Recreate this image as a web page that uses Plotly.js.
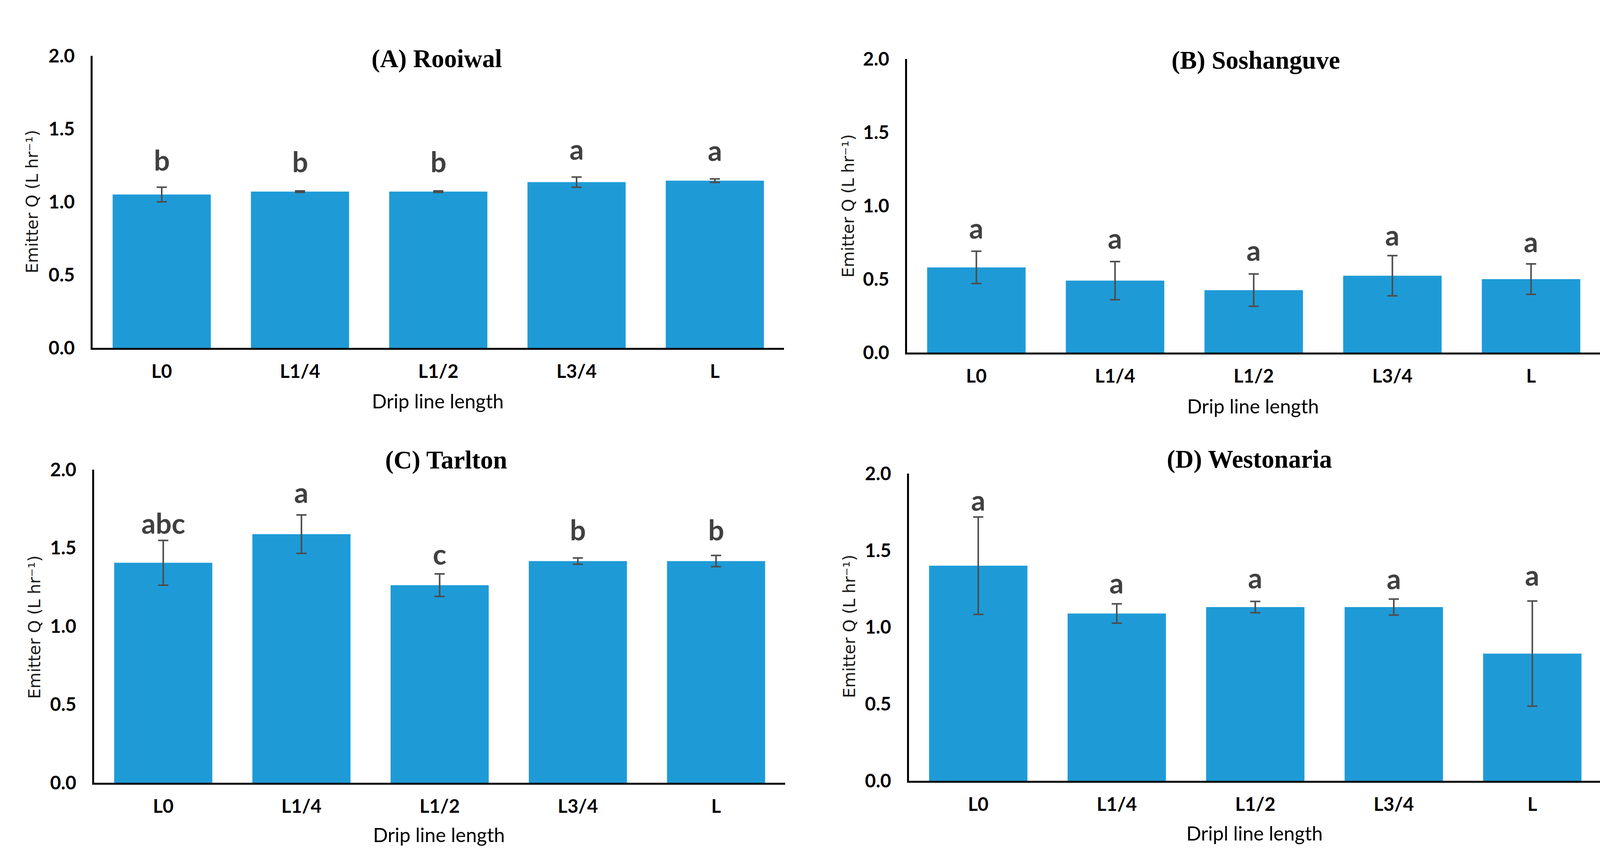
<!DOCTYPE html>
<html>
<head>
<meta charset="utf-8">
<script src="https://cdn.plot.ly/plotly-3.0.1.min.js"></script>
<style>
  html, body { margin: 0; padding: 0; background: #ffffff; }
  #chart { width: 4128px; height: 2208px; }
</style>
</head>
<body>
<div id="chart"></div>
<script>
// ---------- data ----------
const categories = ['L0', 'L1/4', 'L1/2', 'L3/4', 'L'];

const panelTitles = ['(A) Rooiwal', '(B) Soshanguve', '(C) Tarlton', '(D) Westonaria'];
const xTitles = ['Drip line length', 'Drip line length', 'Drip line length', 'Dripl line length'];
const yTitle = 'Emitter Q (L hr\u207B\u00B9)';
const yTickVals = [0, 0.5, 1.0, 1.5, 2.0];
const yTickText = ['0.0', '0.5', '1.0', '1.5', '2.0'];

const rooiwalQ   = [1.050, 1.070, 1.070, 1.135, 1.145];
const rooiwalErr = [0.050, 0.005, 0.005, 0.035, 0.012];
const rooiwalLetters = ['b', 'b', 'b', 'a', 'a'];
const rooiwalLetterY = [1.201, 1.191, 1.191, 1.276, 1.267];

const soshanguveQ   = [0.580, 0.490, 0.425, 0.523, 0.500];
const soshanguveErr = [0.110, 0.130, 0.110, 0.137, 0.104];
const soshanguveLetters = ['a', 'a', 'a', 'a', 'a'];
const soshanguveLetterY = [0.763, 0.694, 0.613, 0.716, 0.669];

const tarltonQ   = [1.405, 1.588, 1.262, 1.416, 1.416];
const tarltonErr = [0.143, 0.123, 0.072, 0.020, 0.036];
const tarltonLetters = ['abc', 'a', 'c', 'b', 'b'];
const tarltonLetterY = [1.579, 1.775, 1.381, 1.535, 1.535];

const westonariaQ   = [1.400, 1.089, 1.131, 1.131, 0.828];
const westonariaErr = [0.317, 0.063, 0.037, 0.052, 0.342];
const westonariaLetters = ['a', 'a', 'a', 'a', 'a'];
const westonariaLetterY = [1.746, 1.207, 1.240, 1.236, 1.258];

// ---------- layout / style ----------
const W = 4128, H = 2208;
const px = v => v / W;            // pixel x -> paper
const py = v => 1 - v / H;        // pixel y -> paper

const BAR = '#1E9BD7';
const ERR = '#4d4d4d';
const LETTER = '#404040';
const tickFont = { family: 'Lato, "Open Sans", sans-serif', size: 48, color: '#000000', weight: 'bold' };

const panels = [
  { q: rooiwalQ, err: rooiwalErr, letters: rooiwalLetters, ly: rooiwalLetterY,
    xd: [237, 2007], yd: [143, 891], title: [1118, 150], xt: [1120, 1027], yt: [82, 517] },
  { q: soshanguveQ, err: soshanguveErr, letters: soshanguveLetters, ly: soshanguveLetterY,
    xd: [2322, 4097], yd: [151, 903], title: [3215, 154], xt: [3207, 1040], yt: [2172, 528] },
  { q: tarltonQ, err: tarltonErr, letters: tarltonLetters, ly: tarltonLetterY,
    xd: [241, 2010], yd: [1203, 2005], title: [1142, 1178], xt: [1123, 2138], yt: [88, 1607] },
  { q: westonariaQ, err: westonariaErr, letters: westonariaLetters, ly: westonariaLetterY,
    xd: [2327, 4100], yd: [1213, 2000], title: [3198, 1176], xt: [3211, 2134], yt: [2174, 1605] }
];

const traces = [];
const annotations = [];
const layout = {
  width: W, height: H,
  margin: { l: 0, r: 0, t: 0, b: 0, pad: 0 },
  paper_bgcolor: '#ffffff', plot_bgcolor: '#ffffff',
  showlegend: false,
  bargap: 0.29,
  annotations: annotations
};

panels.forEach((p, i) => {
  const n = i === 0 ? '' : String(i + 1);
  traces.push({
    type: 'bar',
    x: categories,
    y: p.q,
    xaxis: 'x' + n, yaxis: 'y' + n,
    marker: { color: BAR, line: { width: 0 } },
    error_y: { type: 'data', array: p.err, visible: true, color: ERR, thickness: 4, width: 13 },
    hoverinfo: 'x+y'
  });

  layout['xaxis' + n] = {
    domain: [px(p.xd[0]), px(p.xd[1])],
    anchor: 'y' + n,
    type: 'category',
    range: [-0.5, 4.5],
    showline: true, linecolor: '#000000', linewidth: 5,
    showgrid: false, zeroline: false, ticks: '',
    tickfont: tickFont,
    ticklabelstandoff: 14,
    fixedrange: true
  };
  layout['yaxis' + n] = {
    domain: [py(p.yd[1]), py(p.yd[0])],
    anchor: 'x' + n,
    range: [0, 2],
    tickvals: yTickVals, ticktext: yTickText,
    showline: true, linecolor: '#000000', linewidth: 5,
    showgrid: false, zeroline: false, ticks: '',
    tickfont: tickFont,
    ticklabelstandoff: 31,
    fixedrange: true
  };

  // significance letters
  p.letters.forEach((t, k) => {
    annotations.push({
      xref: 'x' + n, yref: 'y' + n,
      x: categories[k], y: p.ly[k],
      text: t, showarrow: false,
      xanchor: 'center', yanchor: 'bottom', yshift: -12,
      font: { family: 'Lato, "Open Sans", sans-serif', size: 72, color: LETTER, weight: 'bold' }
    });
  });

  // panel title
  annotations.push({
    xref: 'paper', yref: 'paper',
    x: px(p.title[0]), y: py(p.title[1]),
    text: '<b>' + panelTitles[i] + '</b>', showarrow: false,
    xanchor: 'center', yanchor: 'middle',
    font: { family: '"Liberation Serif", "Times New Roman", serif', size: 65, color: '#000000' }
  });

  // x axis title
  annotations.push({
    xref: 'paper', yref: 'paper',
    x: px(p.xt[0]), y: py(p.xt[1]),
    text: xTitles[i], showarrow: false,
    xanchor: 'center', yanchor: 'middle',
    font: { family: 'Lato, "Open Sans", sans-serif', size: 50, color: '#000000' }
  });

  // y axis title
  annotations.push({
    xref: 'paper', yref: 'paper',
    x: px(p.yt[0]), y: py(p.yt[1]),
    text: yTitle, showarrow: false, textangle: -90,
    xanchor: 'center', yanchor: 'middle',
    font: { family: '"DejaVu Sans", "Open Sans", sans-serif', size: 42, color: '#1a1a1a' }
  });
});

Plotly.newPlot('chart', traces, layout, { staticPlot: true, displayModeBar: false });
</script>
</body>
</html>
